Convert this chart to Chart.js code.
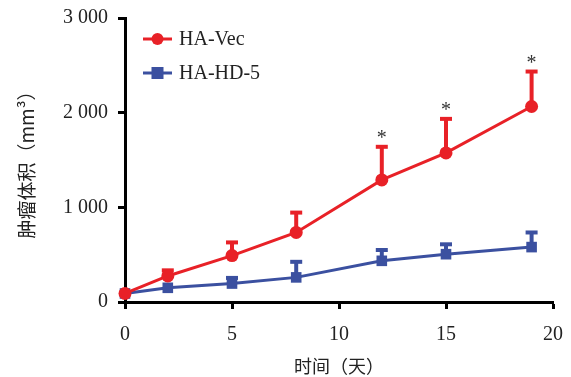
<!DOCTYPE html>
<html><head><meta charset="utf-8">
<script src="https://cdn.jsdelivr.net/npm/chart.js@4/dist/chart.umd.min.js"></script>
<style>html,body{margin:0;padding:0;background:#fff}#wrap{width:571px;height:377px}</style>
</head><body><div id="wrap"><canvas id="c" width="571" height="377"></canvas></div>
<script>
const days = [0, 2, 5, 8, 12, 15, 19];
const vecMean = [90, 275, 490, 735, 1290, 1575, 2065];
const vecErr = [0, 70, 150, 220, 360, 370, 380];
const hdMean = [90, 150, 195, 260, 435, 505, 580];
const hdErr = [0, 0, 70, 175, 125, 115, 165];
const sigDays = [12, 15, 19];
const seriesNames = ['HA-Vec', 'HA-HD-5'];
const xTitle = '时间（天）';
const yTitle = '肿瘤体积（mm³）';

const RED = 'rgb(232,33,39)';
const BLUE = 'rgb(59,80,160)';
const serif = '"Liberation Serif", "Times New Roman", serif';
const cjk = '"Noto Sans CJK SC", sans-serif';

function pts(xs, ys){ return xs.map((x,i)=>({x:x,y:ys[i]})); }

const errPlugin = {
  id:'errbars',
  beforeDatasetsDraw(chart){
    const ctx = chart.ctx, xs = chart.scales.x, ys = chart.scales.y;
    const sets = [[vecMean, vecErr, RED],[hdMean, hdErr, BLUE]];
    ctx.save();
    sets.forEach(([m,e,col])=>{
      ctx.strokeStyle = col; ctx.lineWidth = 4; ctx.lineCap='butt';
      days.forEach((d,i)=>{
        if(!e[i]) return;
        const px = xs.getPixelForValue(d), y0 = ys.getPixelForValue(m[i]), y1 = ys.getPixelForValue(m[i]+e[i]);
        ctx.beginPath(); ctx.moveTo(px,y0); ctx.lineTo(px,y1); ctx.stroke();
        ctx.beginPath(); ctx.moveTo(px-6,y1+1); ctx.lineTo(px+6,y1+1); ctx.stroke();
      });
    });
    ctx.restore();
  },
  afterDraw(chart){
    const ctx = chart.ctx, xs = chart.scales.x, ys = chart.scales.y;
    ctx.save();
    ctx.fillStyle = '#333'; ctx.font = '20px ' + serif; ctx.textAlign='center'; ctx.textBaseline='middle';
    sigDays.forEach(d=>{
      const i = days.indexOf(d);
      const px = xs.getPixelForValue(d), y1 = ys.getPixelForValue(vecMean[i]+vecErr[i]);
      ctx.fillText('*', px, y1-7);
    });
    const items = [[seriesNames[0], RED, 'circle', 39],[seriesNames[1], BLUE, 'rect', 73]];
    items.forEach(([name,col,shape,y])=>{
      ctx.strokeStyle = col; ctx.lineWidth = 3;
      ctx.beginPath(); ctx.moveTo(143,y); ctx.lineTo(172,y); ctx.stroke();
      ctx.fillStyle = col;
      if(shape==='circle'){ ctx.beginPath(); ctx.arc(157.5,y,6,0,Math.PI*2); ctx.fill(); }
      else { ctx.fillRect(151.5,y-6,12,12); }
      ctx.fillStyle = '#222'; ctx.font = '20px ' + serif; ctx.textAlign='left'; ctx.textBaseline='middle';
      ctx.fillText(name, 179, y+1);
    });
    ctx.restore();
  }
};

new Chart(document.getElementById('c'), {
  type:'line',
  data:{ datasets:[
    {label:seriesNames[0], data:pts(days, vecMean), borderColor:RED, backgroundColor:RED, borderWidth:3,
     pointStyle:'circle', pointRadius:6.5, pointBorderWidth:0, clip:false, tension:0, order:0},
    {label:seriesNames[1], data:pts(days, hdMean), borderColor:BLUE, backgroundColor:BLUE, borderWidth:3,
     pointStyle:'rect', pointRadius:7.5, pointBorderWidth:0, clip:false, tension:0, order:1}
  ]},
  options:{
    responsive:false, animation:false, devicePixelRatio:1,
    layout:{padding:{top:18, right:18, left:0, bottom:0}},
    plugins:{legend:{display:false}, tooltip:{enabled:false}},
    scales:{
      x:{type:'linear', min:0, max:20,
        afterFit(s){ s.height = 75; s.paddingLeft = 0; s.paddingRight = 0; },
        ticks:{stepSize:5, color:'#222', font:{family:serif, size:20}, padding:14, maxRotation:0},
        grid:{drawOnChartArea:false, drawTicks:true, tickLength:7, tickWidth:3, tickColor:'#000'},
        border:{display:true, color:'#000', width:3},
        title:{display:true, text:xTitle, color:'#222', font:{family:cjk, size:18}, padding:{top:0,bottom:0}}
      },
      y:{min:0, max:3000,
        afterFit(s){ s.width = 125; s.paddingTop = 0; s.paddingBottom = 0; },
        ticks:{stepSize:1000, color:'#222', font:{family:serif, size:20}, padding:10,
          callback:v=>String(v).replace(/\B(?=(\d{3})+(?!\d))/g,' ')},
        grid:{drawOnChartArea:false, drawTicks:true, tickLength:7, tickWidth:3, tickColor:'#000'},
        border:{display:true, color:'#000', width:3},
        title:{display:true, text:yTitle, color:'#222', font:{family:cjk, size:19}, padding:{top:15,bottom:0}}
      }
    }
  },
  plugins:[errPlugin]
});
</script></body></html>
